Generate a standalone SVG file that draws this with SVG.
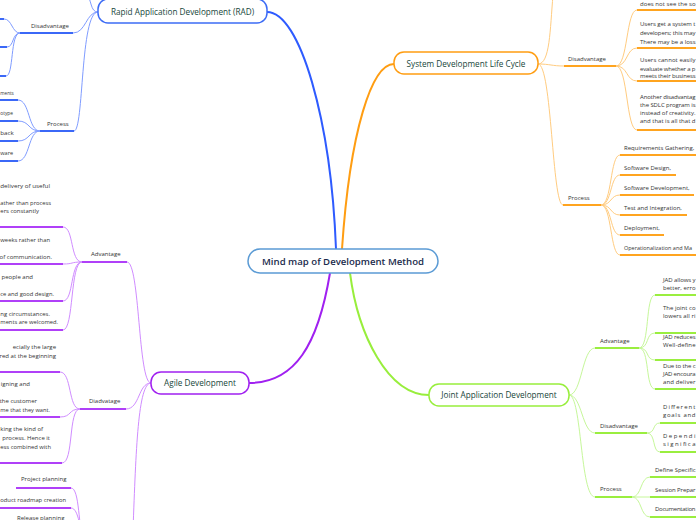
<svg xmlns="http://www.w3.org/2000/svg" width="696" height="520" viewBox="0 0 696 520">
<style>
.t{font-family:"Open Sans","Liberation Sans",sans-serif;font-size:6px;fill:#333}
.e{text-anchor:end}
.bt{font-family:"Open Sans","Liberation Sans",sans-serif;font-size:8.2px;fill:#17463a;text-anchor:middle}
.ct{font-family:"Open Sans","Liberation Sans",sans-serif;font-size:9.6px;font-weight:600;fill:#1a2b4c;text-anchor:middle}
path{fill:none}
.mb{stroke:#2e5bff;stroke-width:2}
.mo{stroke:#ff9d12;stroke-width:2}
.mp{stroke:#a020f0;stroke-width:2}
.mg{stroke:#98ee3c;stroke-width:2}
.cb{stroke:#7f9cff;stroke-width:1}
.co{stroke:#ffcc80;stroke-width:1}
.cp{stroke:#d08cff;stroke-width:1}
.cg{stroke:#c6f79a;stroke-width:1}
.ub{stroke:#3b68f7;stroke-width:2}
.uo{stroke:#ffa41f;stroke-width:2}
.up{stroke:#b040f8;stroke-width:2}
.ug{stroke:#9aee3f;stroke-width:2}
</style>
<rect width="696" height="520" fill="#fff"/>
<g id="connectors">
<path class="mb" d="M336,249 C331,120 300,12 267,12"/>
<path class="mo" d="M342,249 C350,130 372,64 394,64"/>
<path class="mp" d="M330,273 C318,345 295,383 249,383"/>
<path class="mg" d="M350,273 C358,335 388,395 429,395"/>
<path class="cb" d="M98,12 C90,12 92,0 86,-8"/>
<path class="cb" d="M98,12 C86,12 86,33 73,33"/>
<path class="cb" d="M98,12 C80,12 84,131 74,131"/>
<path class="ub" d="M20,33 H73"/>
<path class="ub" d="M40,131 H74"/>
<path class="cb" d="M20,33 C12,33 12,19 4,19"/>
<path class="cb" d="M20,33 C12,33 14,47 7,47"/>
<path class="cb" d="M20,33 C10,33 14,76 6,76"/>
<path class="ub" d="M-5,19 H4"/>
<path class="ub" d="M-5,47 H7"/>
<path class="ub" d="M-5,76 H6"/>
<path class="cb" d="M40,131 C28,131 30,100 18,100"/>
<path class="cb" d="M40,131 C28,131 30,121 18,121"/>
<path class="cb" d="M40,131 C28,131 30,141 18,141"/>
<path class="cb" d="M40,131 C28,131 30,161 18,161"/>
<path class="ub" d="M-5,100 H18"/>
<path class="ub" d="M-5,121 H18"/>
<path class="ub" d="M-5,141 H18"/>
<path class="ub" d="M-5,161 H18"/>
<path class="cp" d="M151,383 C138,383 140,262 127,262"/>
<path class="cp" d="M151,383 C138,383 140,409 126,409"/>
<path class="cp" d="M151,383 C138,383 136,450 133,530"/>
<path class="up" d="M82,262 H127"/>
<path class="up" d="M80,409 H126"/>
<path class="cp" d="M82,262 C70,262 74,227 63,227"/>
<path class="cp" d="M82,262 C70,262 74,264 63,264"/>
<path class="cp" d="M82,262 C70,262 74,301 63,301"/>
<path class="cp" d="M82,262 C70,262 74,330 63,330"/>
<path class="up" d="M-5,227 H63"/>
<path class="up" d="M-5,264 H63"/>
<path class="up" d="M-5,301 H63"/>
<path class="up" d="M-5,330 H63"/>
<path class="cp" d="M80,409 C68,409 72,372 60,372"/>
<path class="cp" d="M80,409 C68,409 72,417 60,417"/>
<path class="cp" d="M80,409 C68,409 74,463 62,463"/>
<path class="up" d="M-5,372 H60"/>
<path class="up" d="M-5,417 H60"/>
<path class="up" d="M-5,463 H62"/>
<path class="up" d="M16,488 H71"/>
<path class="up" d="M-5,508 H71"/>
<path class="cp" d="M71,488 C80,488 78,530 84,540"/>
<path class="cp" d="M71,508 C79,508 80,532 84,540"/>
<path class="co" d="M538,64 C550,64 550,30 553,-5"/>
<path class="co" d="M538,64 C550,64 552,66 564,66"/>
<path class="co" d="M538,64 C552,64 552,205 563,205"/>
<path class="uo" d="M564,66 H616"/>
<path class="uo" d="M563,205 H601"/>
<path class="co" d="M616,66 C628,66 626,10 637,10"/>
<path class="co" d="M616,66 C628,66 626,48 637,48"/>
<path class="co" d="M616,66 C628,66 626,81 637,81"/>
<path class="co" d="M616,66 C628,66 626,130 637,130"/>
<path class="uo" d="M637,10 H700"/>
<path class="uo" d="M637,48 H700"/>
<path class="uo" d="M637,81 H700"/>
<path class="uo" d="M637,130 H700"/>
<path class="co" d="M601,205 C612,205 610,155 620,155"/>
<path class="co" d="M601,205 C612,205 610,175 620,175"/>
<path class="co" d="M601,205 C612,205 610,195 620,195"/>
<path class="co" d="M601,205 C612,205 610,215 620,215"/>
<path class="co" d="M601,205 C612,205 610,235 620,235"/>
<path class="co" d="M601,205 C612,205 610,255 620,255"/>
<path class="uo" d="M620,155 H700"/>
<path class="uo" d="M620,175 H676"/>
<path class="uo" d="M620,195 H694"/>
<path class="uo" d="M620,215 H687"/>
<path class="uo" d="M620,235 H664"/>
<path class="uo" d="M620,255 H700"/>
<path class="cg" d="M569,395 C582,395 582,348 595,348"/>
<path class="cg" d="M569,395 C582,395 582,433 595,433"/>
<path class="cg" d="M569,395 C582,395 580,497 595,497"/>
<path class="ug" d="M595,348 H639"/>
<path class="ug" d="M595,433 H647"/>
<path class="ug" d="M595,497 H632"/>
<path class="cg" d="M639,348 C650,348 645,295 655,295"/>
<path class="cg" d="M639,348 C650,348 645,333 655,333"/>
<path class="cg" d="M639,348 C650,348 645,360 655,360"/>
<path class="cg" d="M639,348 C650,348 645,389 655,389"/>
<path class="ug" d="M655,295 H700"/>
<path class="ug" d="M655,333 H700"/>
<path class="ug" d="M655,360 H700"/>
<path class="ug" d="M655,389 H700"/>
<path class="cg" d="M647,433 C656,433 652,423 660,423"/>
<path class="cg" d="M647,433 C656,433 652,452 660,452"/>
<path class="ug" d="M660,423 H700"/>
<path class="ug" d="M660,452 H700"/>
<path class="cg" d="M632,497 C642,497 640,477 650,477"/>
<path class="cg" d="M632,497 H650"/>
<path class="cg" d="M632,497 C642,497 640,517 650,517"/>
<path class="ug" d="M650,477 H700"/>
<path class="ug" d="M650,497 H700"/>
<path class="ug" d="M650,517 H700"/>
</g>
<g id="center">
<rect x="248" y="249" width="190" height="24" rx="12" fill="#fff" stroke="#5b9bd5" stroke-width="1.5"/>
<text class="ct" x="343" y="264.5">Mind map of Development Method</text>
</g>
<g id="rad">
<rect x="98" y="-1" width="169" height="24" rx="10" fill="#fff" stroke="#3d6cf5" stroke-width="1.5"/>
<text class="bt" x="182.5" y="15">Rapid Application Development (RAD)</text>
</g>
<g id="rad-dis"><text class="t" x="31" y="28">Disadvantage</text></g>
<g id="rad-proc"><text class="t" x="47" y="126">Process</text></g>
<g id="rad-proc-items">
<text class="t" x="0.3" y="95" textLength="13.5" lengthAdjust="spacingAndGlyphs">ments</text>
<text class="t" x="0.3" y="115" textLength="12.7" lengthAdjust="spacingAndGlyphs">otype</text>
<text class="t" x="0.3" y="135" textLength="13.5" lengthAdjust="spacingAndGlyphs">back</text>
<text class="t" x="0.3" y="155" textLength="12.7" lengthAdjust="spacingAndGlyphs">ware</text>
</g>
<g id="agile">
<rect x="151" y="372" width="98" height="22" rx="10" fill="#fff" stroke="#a020f0" stroke-width="1.5"/>
<text class="bt" x="200" y="386">Agile Development</text>
</g>
<g id="agile-adv"><text class="t" x="91" y="256">Advantage</text></g>
<g id="agile-adv-items">
<text class="t" x="0.3" y="188" textLength="49.7" lengthAdjust="spacingAndGlyphs">delivery of useful</text>
<text class="t" x="0.3" y="205" textLength="50.7" lengthAdjust="spacingAndGlyphs">ather than process</text>
<text class="t" x="0.3" y="213" textLength="38.7" lengthAdjust="spacingAndGlyphs">ers constantly</text>
<text class="t" x="0.3" y="242" textLength="49.7" lengthAdjust="spacingAndGlyphs">weeks rather than</text>
<text class="t e" x="52" y="259">of communication.</text>
<text class="t e" x="33" y="279">people and</text>
<text class="t" x="0.3" y="296" textLength="53.7" lengthAdjust="spacingAndGlyphs">ce and good design.</text>
<text class="t" x="0.3" y="316" textLength="49.7" lengthAdjust="spacingAndGlyphs">ng circumstances.</text>
<text class="t" x="0.3" y="324" textLength="57.7" lengthAdjust="spacingAndGlyphs">ments are welcomed.</text>
</g>
<g id="agile-dis"><text class="t" x="89" y="403">Diadvatage</text></g>
<g id="agile-dis-items">
<text class="t e" x="56" y="349">ecially the large</text>
<text class="t e" x="56" y="358">red at the beginning</text>
<text class="t e" x="30" y="386">igning and</text>
<text class="t e" x="37" y="403">the customer</text>
<text class="t" x="0.3" y="412" textLength="49.7" lengthAdjust="spacingAndGlyphs">me that they want.</text>
<text class="t" x="0.3" y="431" textLength="42.7" lengthAdjust="spacingAndGlyphs">king the kind of</text>
<text class="t e" x="50" y="440">process. Hence it</text>
<text class="t" x="0.3" y="449" textLength="50.7" lengthAdjust="spacingAndGlyphs">ess combined with</text>
</g>
<g id="agile-proc-items">
<text class="t" x="21" y="481">Project planning</text>
<text class="t" x="0.3" y="502" textLength="65.7" lengthAdjust="spacingAndGlyphs">oduct roadmap creation</text>
<text class="t" x="17" y="519.5">Release planning</text>
</g>
<g id="sdlc">
<rect x="394" y="52" width="144" height="22" rx="10" fill="#fff" stroke="#ff9d12" stroke-width="1.5"/>
<text class="bt" x="466" y="66.5">System Development Life Cycle</text>
</g>
<g id="sdlc-dis"><text class="t" x="568" y="61">Disadvantage</text></g>
<g id="sdlc-dis-items">
<text class="t" x="640" y="5.5" textLength="55.5" lengthAdjust="spacing">does not see the so</text>
<text class="t" x="640" y="26" textLength="55.5" lengthAdjust="spacing">Users get a system t</text>
<text class="t" x="640" y="35" textLength="55.5" lengthAdjust="spacing">developers; this may</text>
<text class="t" x="640" y="44" textLength="55.5" lengthAdjust="spacing">There may be a loss</text>
<text class="t" x="640" y="62" textLength="55.5" lengthAdjust="spacing">Users cannot easily</text>
<text class="t" x="640" y="71" textLength="55.5" lengthAdjust="spacing">evaluate whether a p</text>
<text class="t" x="640" y="78" textLength="55.5" lengthAdjust="spacing">meets their business</text>
<text class="t" x="640" y="99" textLength="55.5" lengthAdjust="spacing">Another disadvantag</text>
<text class="t" x="640" y="107" textLength="55.5" lengthAdjust="spacing">the SDLC program is</text>
<text class="t" x="640" y="115" textLength="55.5" lengthAdjust="spacing">instead of creativity.</text>
<text class="t" x="640" y="123" textLength="55.5" lengthAdjust="spacing">and that is all that d</text>
</g>
<g id="sdlc-proc"><text class="t" x="568" y="200">Process</text></g>
<g id="sdlc-proc-items">
<text class="t" x="624" y="150">Requirements Gathering,</text>
<text class="t" x="624" y="170">Software Design,</text>
<text class="t" x="624" y="190">Software Development,</text>
<text class="t" x="624" y="210">Test and Integration,</text>
<text class="t" x="624" y="230">Deployment,</text>
<text class="t" x="624" y="250" style="font-size:5.8px" textLength="68" lengthAdjust="spacingAndGlyphs">Operationalization and Ma</text>
</g>
<g id="jad">
<rect x="429" y="384" width="140" height="22" rx="10" fill="#fff" stroke="#98ee3c" stroke-width="1.5"/>
<text class="bt" x="499" y="398">Joint Application Development</text>
</g>
<g id="jad-adv"><text class="t" x="600" y="343">Advantage</text></g>
<g id="jad-adv-items">
<text class="t" x="663" y="282" textLength="32.5" lengthAdjust="spacing">JAD allows y</text>
<text class="t" x="663" y="290" textLength="32.5" lengthAdjust="spacing">better, erro</text>
<text class="t" x="663" y="310" textLength="32.5" lengthAdjust="spacing">The joint co</text>
<text class="t" x="663" y="318" textLength="32.5" lengthAdjust="spacing">lowers all ri</text>
<text class="t" x="663" y="339" textLength="32.5" lengthAdjust="spacing">JAD reduces</text>
<text class="t" x="663" y="347" textLength="32.5" lengthAdjust="spacing">Well-define</text>
<text class="t" x="663" y="368" textLength="32.5" lengthAdjust="spacing">Due to the c</text>
<text class="t" x="663" y="376" textLength="32.5" lengthAdjust="spacing">JAD encoura</text>
<text class="t" x="663" y="384" textLength="32.5" lengthAdjust="spacing">and deliver</text>
</g>
<g id="jad-dis"><text class="t" x="600" y="428">Disadvantage</text></g>
<g id="jad-dis-items">
<text class="t" x="663" y="409" textLength="32.5" lengthAdjust="spacing">Different</text>
<text class="t" x="663" y="417" textLength="32.5" lengthAdjust="spacing">goals and</text>
<text class="t" x="663" y="438" textLength="32.5" lengthAdjust="spacing">Dependi</text>
<text class="t" x="663" y="446" textLength="32.5" lengthAdjust="spacing">significa</text>
</g>
<g id="jad-proc"><text class="t" x="600" y="491">Process</text></g>
<g id="jad-proc-items">
<text class="t" x="655" y="472" textLength="40.5" lengthAdjust="spacing">Define Specific</text>
<text class="t" x="655" y="492" textLength="40.5" lengthAdjust="spacing">Session Prepar</text>
<text class="t" x="655" y="511" textLength="40.5" lengthAdjust="spacing">Documentation</text>
</g>
</svg>
